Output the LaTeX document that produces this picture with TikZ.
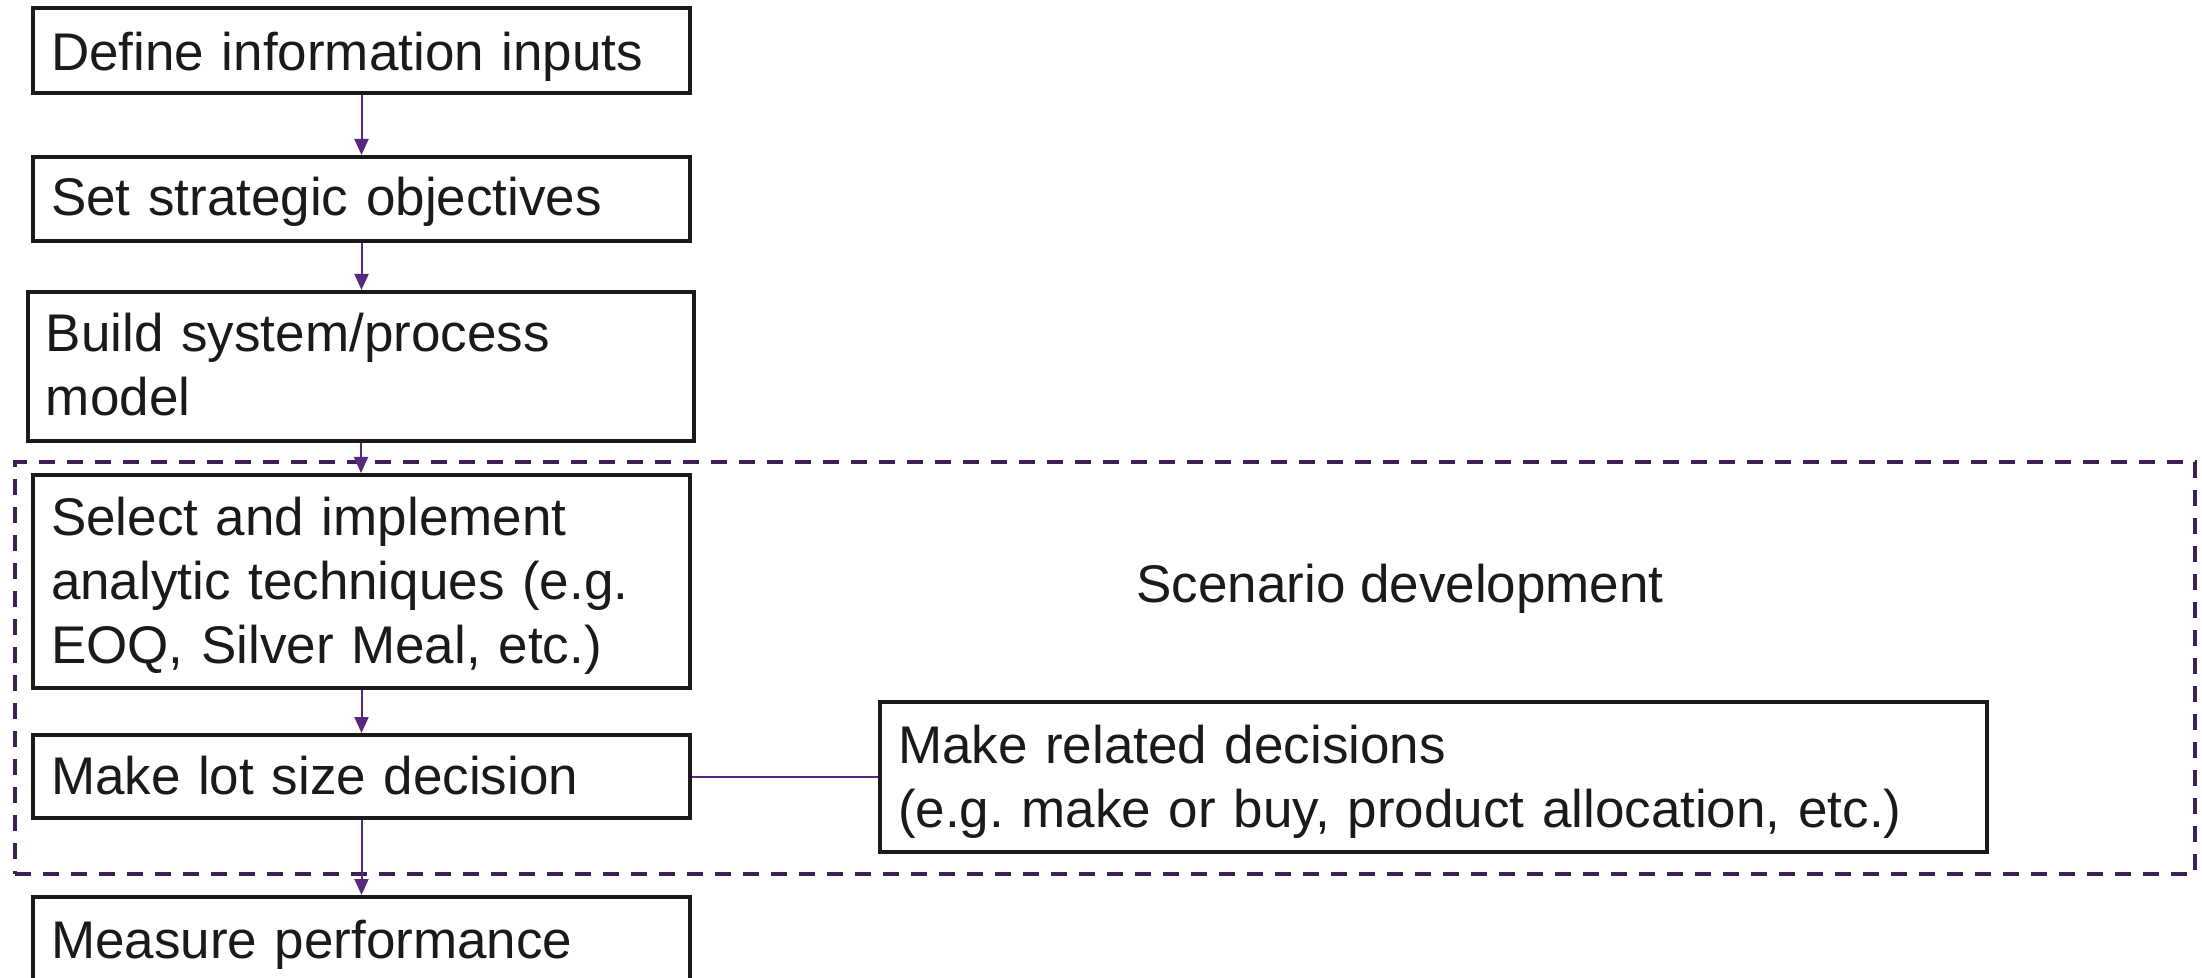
\documentclass[tikz,border=0pt]{standalone}
\usepackage{fontspec}
\setmainfont{Liberation Sans}
\usetikzlibrary{arrows.meta}

\definecolor{ink}{HTML}{1A1A1A}
\definecolor{flow}{HTML}{56287E}
\definecolor{frame}{HTML}{3E1F55}

\tikzset{
  stepbox/.style={draw=ink, line width=2pt, rectangle, anchor=north west,
    inner xsep=9pt, inner ysep=0pt, align=left, text=ink,
    font=\fontsize{26.5pt}{32pt}\selectfont\frenchspacing},
  flowarrow/.style={draw=flow, line width=1pt, -{Triangle[length=8pt,width=7pt]}},
  link/.style={draw=flow, line width=1pt},
  region/.style={draw=frame, line width=2pt, dash pattern=on 8pt off 6pt,
    rectangle, anchor=north west, inner sep=0pt},
  regionlabel/.style={anchor=base west, inner sep=0pt, text=ink,
    font=\fontsize{26.5pt}{32pt}\selectfont},
}

\begin{document}
\begin{tikzpicture}[x=0.5pt,y=-0.5pt]
\useasboundingbox (0,0) rectangle (2202,978);
\fill[white] (0,0) rectangle (2202,978);
\clip (0,0) rectangle (2202,978);

% dashed scenario region
\node[region, minimum width=1090pt, minimum height=205.75pt] (scen) at (13,460.5) {};
\node[regionlabel] (scenlabel) at (1136,602.7) {Scenario development};

% main process steps
\node[stepbox, text width=310.5pt, text height=30.9pt, text depth=11.2pt]
  (inputs) at (31,6.5) {Define information inputs};
\node[stepbox, text width=310.5pt, text height=29.15pt, text depth=12.85pt]
  (objectives) at (31,155) {Set strategic objectives};
\node[stepbox, text width=315pt, text height=30pt, text depth=44.5pt]
  (model) at (26,290) {Build system/process\\model};
\node[stepbox, text width=310.5pt, text height=30.15pt, text depth=76.35pt]
  (techniques) at (31,473) {Select and implement\\analytic techniques (e.g.\\EOQ, Silver Meal, etc.)};
\node[stepbox, text width=310.5pt, text height=29.7pt, text depth=11.8pt]
  (lotsize) at (31,733) {Make lot size decision};
\node[stepbox, text width=310.5pt, text height=30.75pt, text depth=21.75pt]
  (measure) at (31,895) {Measure performance};
\node[stepbox, text width=535.5pt, text height=30.5pt, text depth=44.25pt]
  (related) at (878,700) {Make related decisions\\(e.g. make or buy, product allocation, etc.)};

% connectors
\draw[flowarrow] (inputs.south) -- (objectives.north);
\draw[flowarrow] (objectives.south) -- (objectives.south |- model.north);
\draw[flowarrow] (model.south) -- (model.south |- techniques.north);
\draw[flowarrow] (techniques.south) -- (lotsize.north);
\draw[flowarrow] (lotsize.south) -- (measure.north);
\draw[link] (lotsize.east) -- (lotsize.east -| related.west);
\end{tikzpicture}
\end{document}
